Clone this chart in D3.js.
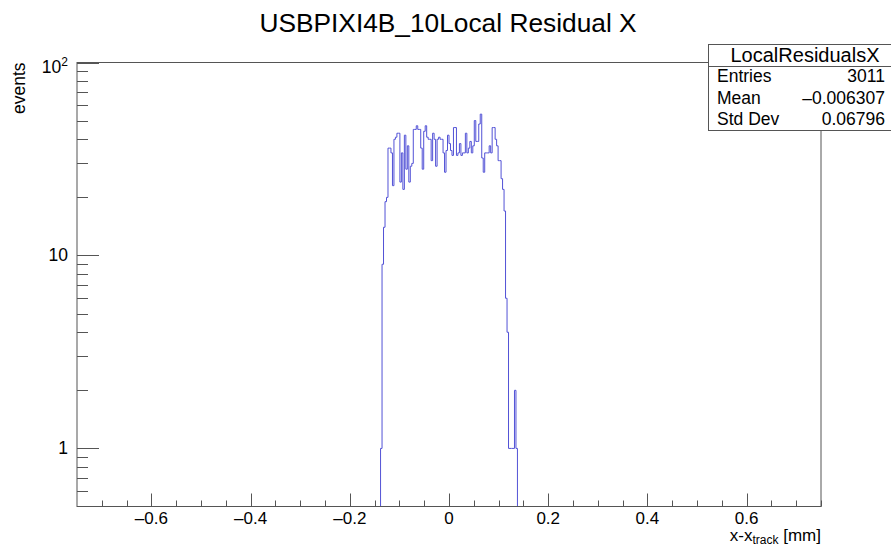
<!DOCTYPE html>
<meta charset="utf-8">
<head>
  <title>Local Residual X</title>
  <style>
    body { margin: 0; background: #fff; }
    svg { display: block; font-family: "Liberation Sans", Arial, Helvetica, sans-serif; }
  </style>
  <script src="https://d3js.org/d3.v7.min.js"></script>
</head>
<body>
  <div id="content"></div>
  <script>
    // histogram binning (500 bins from -0.75 to 0.75)
    var xRange = [-0.75, 0.75];
    var binWidth = 0.003;
    var firstBin = 204; // index of first non-empty bin
    var counts = [
      1, 9, 14, 19, 20,
      36, 36, 34, 23, 40, 41, 43, 43, 24, 34, 22, 42, 28, 37, 24, 29, 30,
      45, 45, 47, 45, 45, 36, 28, 44, 47, 41, 40, 40, 31, 43, 40, 29, 40, 41,
      40, 40, 34, 27, 35, 42, 38, 35, 33, 46, 46, 33, 34, 38, 33, 34, 34, 43,
      34, 36, 39, 34, 37, 50, 39, 39, 48, 54, 32, 27, 34, 34, 34, 37, 34, 46,
      46, 40, 37, 31, 31, 25, 22, 17,
      6, 4, 1, 1, 1, 1, 2, 1
    ];

    var yDomain = [0.5, 100];
    var xTicks = [-0.6, -0.4, -0.2, 0, 0.2, 0.4, 0.6];
    var xTickLabels = ['\u20130.6', '\u20130.4', '\u20130.2', '0', '0.2', '0.4', '0.6'];
    var yTicks = [1, 10, 100];
    var statNames = ['Entries', 'Mean', 'Std Dev'];
    var statValues = ['3011', '\u20130.006307', '0.06796'];

    var W = 891, H = 546;
    var mLeft = 77, mRight = 821, mTop = 62.5, mBottom = 506.5;

    var svg = d3.select('#content').append('svg')
      .attr('width', W).attr('height', H);

    var x = d3.scaleLinear().domain(xRange).range([mLeft, mRight]);
    var y = d3.scaleLog().domain(yDomain).range([mBottom, mTop]);

    // build full bin table
    var nBins = Math.round((xRange[1] - xRange[0]) / binWidth);
    var bins = [];
    for (var i = 0; i < nBins; i++) {
      var j = i - firstBin;
      var c = (j >= 0 && j < counts.length) ? counts[j] : 0;
      bins.push({ lo: xRange[0] + i * binWidth, c: c });
    }
    bins.push({ lo: xRange[1], c: 0 });

    // histogram outline
    var yc = function (c) { return c > 0 ? Math.min(y(c), mBottom) : mBottom; };
    var line = d3.line()
      .x(function (d) { return x(d.lo); })
      .y(function (d) { return yc(d.c); })
      .curve(d3.curveStepAfter);

    svg.append('path')
      .datum(bins)
      .attr('d', line)
      .attr('fill', 'none')
      .attr('stroke', '#5252d6')
      .attr('stroke-width', 1);

    // frame
    var frameColor = '#555';
    svg.append('rect')
      .attr('x', mLeft).attr('y', mTop)
      .attr('width', mRight - mLeft).attr('height', mBottom - mTop)
      .attr('fill', 'none').attr('stroke', frameColor).attr('stroke-width', 1);

    // x ticks: major every 0.2, minor every 0.05
    var minor = d3.range(-0.7, 0.751, 0.05);
    svg.append('g').selectAll('line')
      .data(minor)
      .join('line')
      .attr('x1', function (d) { return Math.round(x(d)) + 0.5; })
      .attr('x2', function (d) { return Math.round(x(d)) + 0.5; })
      .attr('y1', mBottom)
      .attr('y2', mBottom - 6)
      .attr('stroke', frameColor);
    svg.append('g').selectAll('line')
      .data(xTicks)
      .join('line')
      .attr('x1', function (d) { return Math.round(x(d)) + 0.5; })
      .attr('x2', function (d) { return Math.round(x(d)) + 0.5; })
      .attr('y1', mBottom)
      .attr('y2', mBottom - 13)
      .attr('stroke', frameColor);
    svg.append('g').selectAll('text')
      .data(xTicks)
      .join('text')
      .attr('x', function (d) { return x(d); })
      .attr('y', 524)
      .attr('text-anchor', 'middle')
      .attr('font-size', 17)
      .text(function (d, i) { return xTickLabels[i]; });

    // y ticks (log)
    var yMinor = [];
    [0.1, 1, 10].forEach(function (dec) {
      for (var k = 2; k <= 9; k++) {
        var v = dec * k;
        if (v > yDomain[0] && v < yDomain[1]) yMinor.push(v);
      }
    });
    svg.append('g').selectAll('line')
      .data(yMinor)
      .join('line')
      .attr('x1', mLeft)
      .attr('x2', mLeft + 11)
      .attr('y1', function (d) { return Math.round(y(d)) + 0.5; })
      .attr('y2', function (d) { return Math.round(y(d)) + 0.5; })
      .attr('stroke', frameColor);
    svg.append('g').selectAll('line')
      .data(yTicks)
      .join('line')
      .attr('x1', mLeft)
      .attr('x2', mLeft + 22)
      .attr('y1', function (d) { return Math.round(y(d)) + 0.5; })
      .attr('y2', function (d) { return Math.round(y(d)) + 0.5; })
      .attr('stroke', frameColor);

    var yl = svg.append('g').attr('font-size', 17.5).attr('text-anchor', 'end');
    yl.append('text').attr('x', 68).attr('y', y(1) + 6).text('1');
    yl.append('text').attr('x', 68).attr('y', y(10) + 6).text('10');
    var t100 = yl.append('text').attr('x', 68).attr('y', y(100) + 10);
    t100.append('tspan').text('10');
    t100.append('tspan').attr('font-size', 12).attr('dy', -7).text('2');

    // axis titles
    svg.append('text')
      .attr('transform', 'translate(25,' + mTop + ') rotate(-90)')
      .attr('text-anchor', 'end')
      .attr('font-size', 17.5)
      .text('events');

    var xt = svg.append('text')
      .attr('x', mRight)
      .attr('y', 541)
      .attr('text-anchor', 'end')
      .attr('font-size', 17);
    xt.append('tspan').text('x-x');
    xt.append('tspan').attr('font-size', 12).attr('dy', 3).text('track');
    xt.append('tspan').attr('dy', -3).text(' [mm]');

    // title
    svg.append('text')
      .attr('x', 448)
      .attr('y', 32)
      .attr('text-anchor', 'middle')
      .attr('font-size', 26.3)
      .text('USBPIXI4B_10Local Residual X');

    // stats box
    var bx = 708.5, by = 44.5, bw = 190, bh = 86;
    var st = svg.append('g');
    st.append('rect')
      .attr('x', bx).attr('y', by).attr('width', bw).attr('height', bh)
      .attr('fill', '#fff').attr('stroke', frameColor);
    st.append('line')
      .attr('x1', bx).attr('x2', bx + bw)
      .attr('y1', 66.5).attr('y2', 66.5)
      .attr('stroke', frameColor);
    st.append('text')
      .attr('x', 805).attr('y', 62)
      .attr('text-anchor', 'middle')
      .attr('font-size', 20)
      .text('LocalResidualsX');
    var rowY = [82, 104, 125];
    st.selectAll('text.n')
      .data(statNames)
      .join('text')
      .attr('class', 'n')
      .attr('x', 717)
      .attr('y', function (d, i) { return rowY[i]; })
      .attr('font-size', 17.5)
      .text(function (d) { return d; });
    st.selectAll('text.v')
      .data(statValues)
      .join('text')
      .attr('class', 'v')
      .attr('x', 885)
      .attr('y', function (d, i) { return rowY[i]; })
      .attr('text-anchor', 'end')
      .attr('font-size', 17.5)
      .text(function (d) { return d; });
  </script>
</body>
</html>
